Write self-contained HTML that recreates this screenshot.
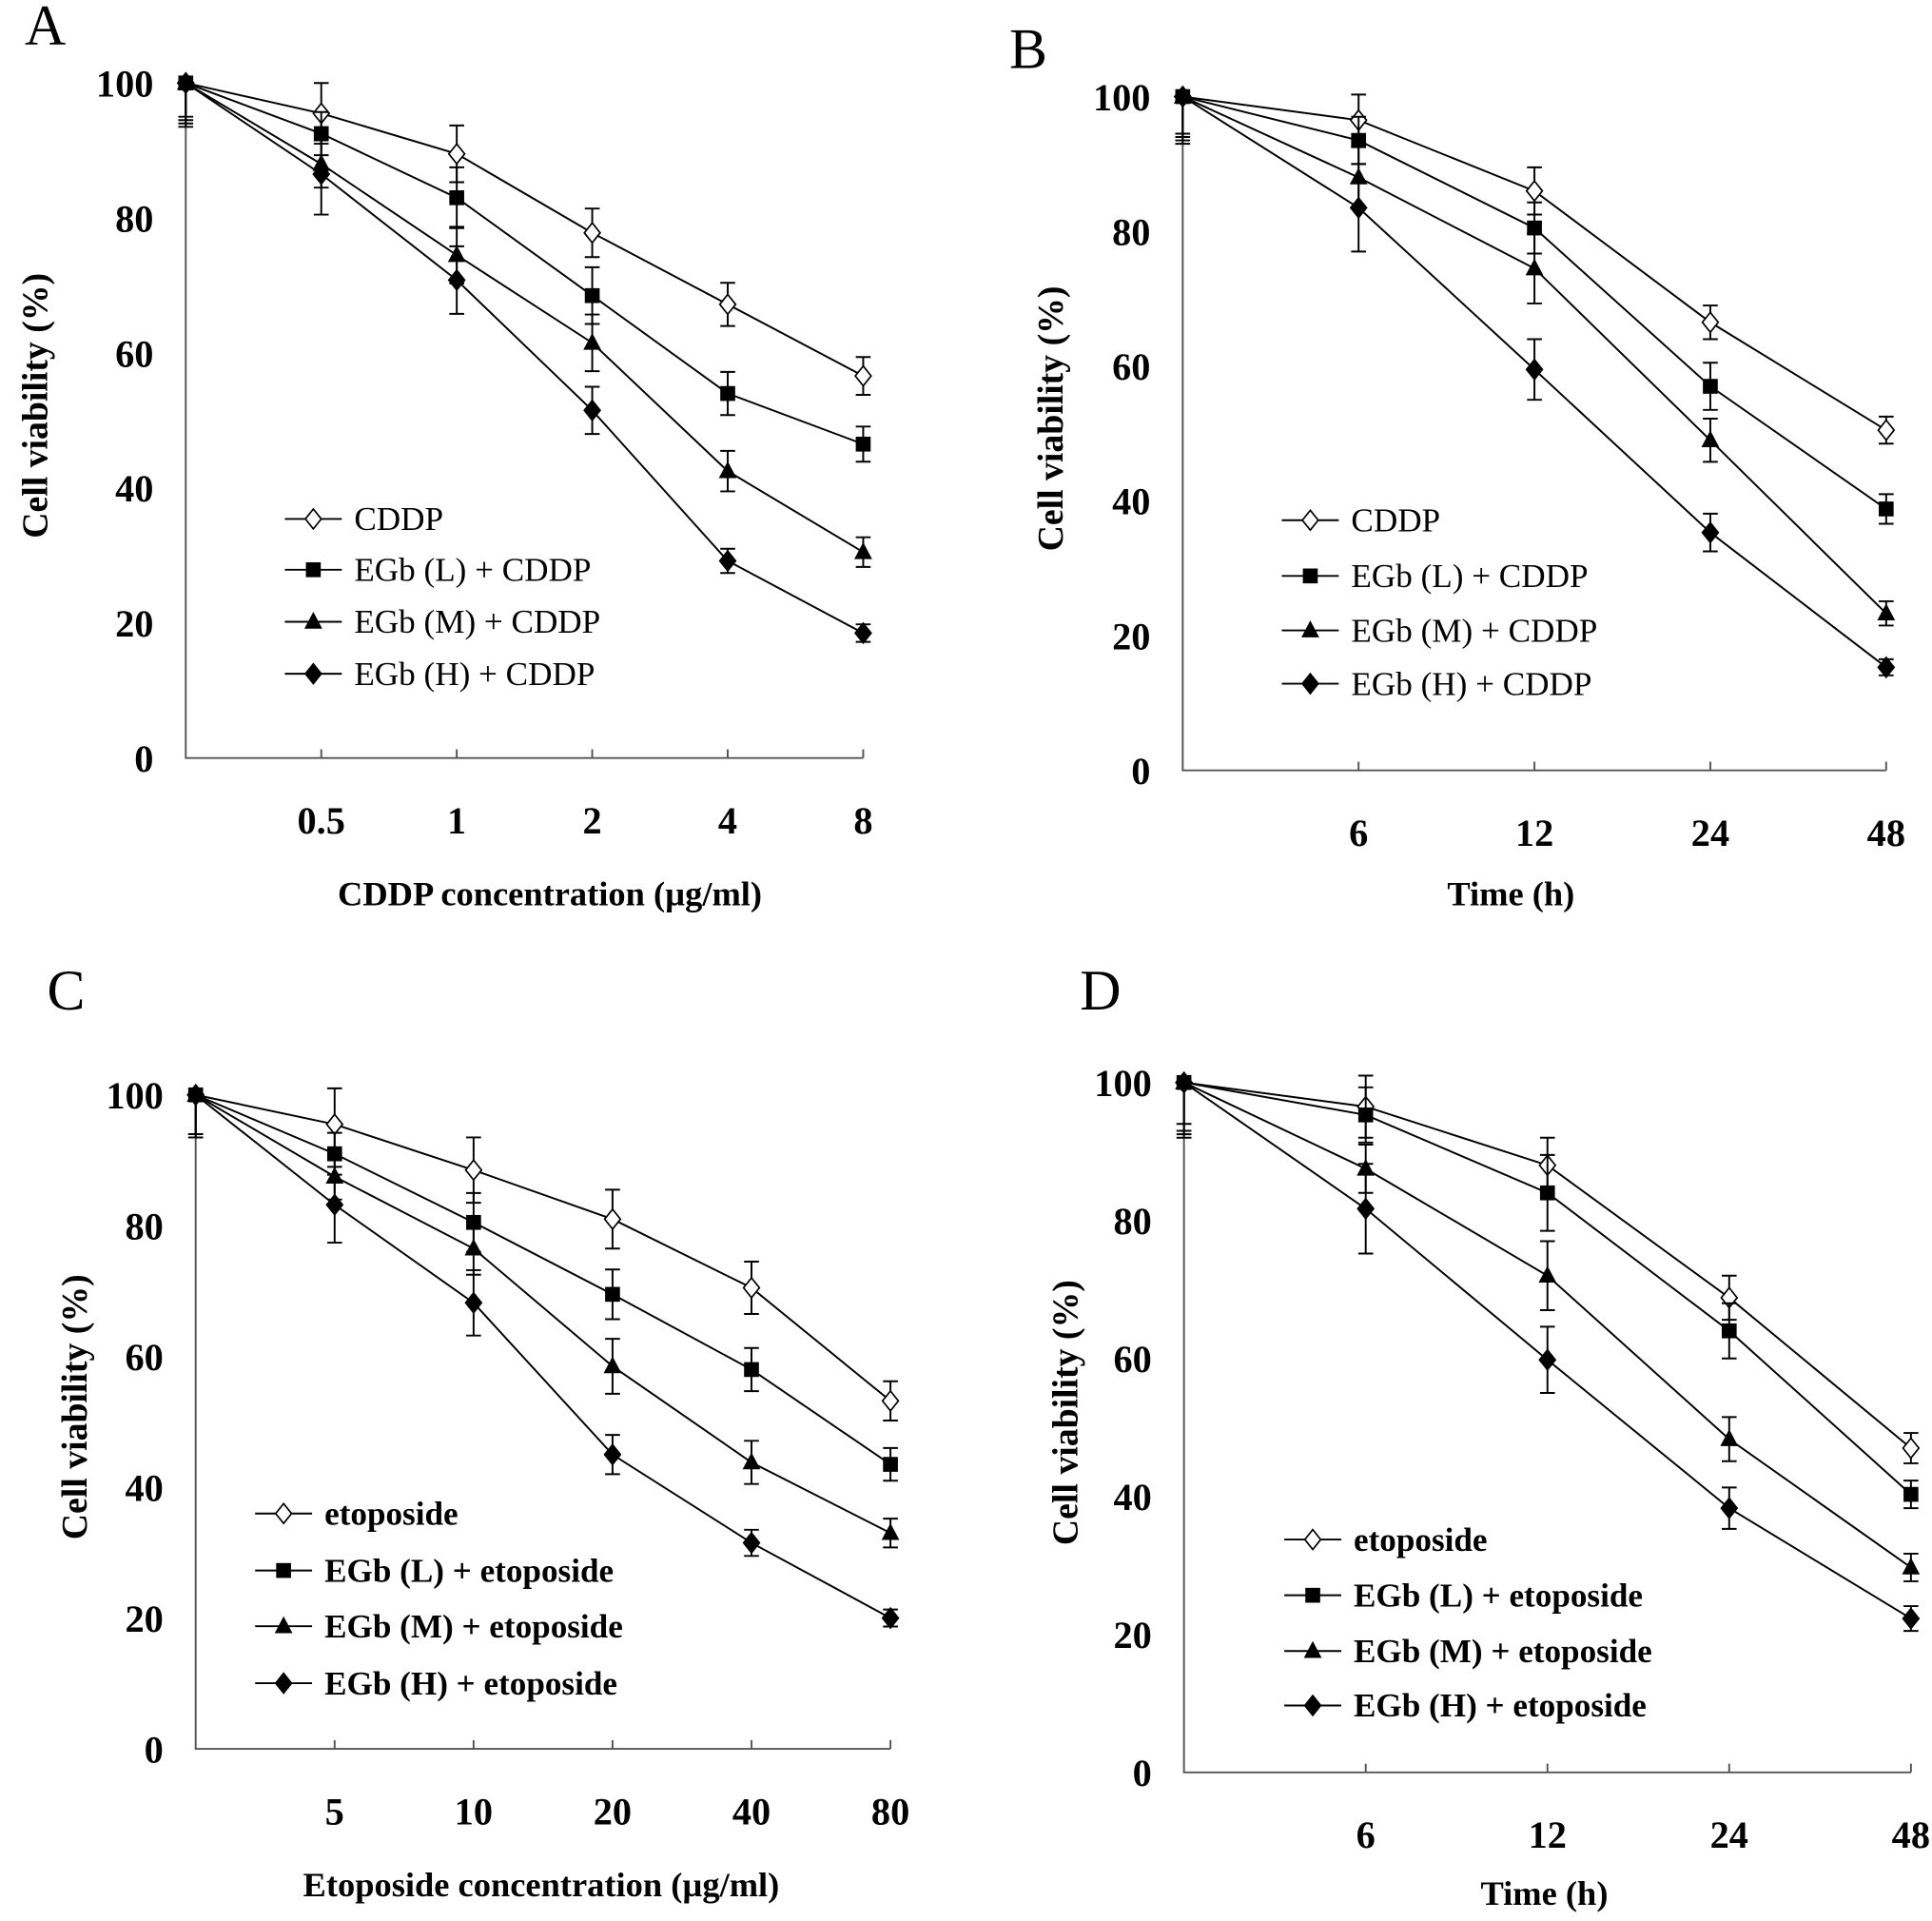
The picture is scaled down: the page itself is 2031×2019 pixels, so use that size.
<!DOCTYPE html>
<html><head><meta charset="utf-8"><style>
html,body{margin:0;padding:0;background:#fff;}
svg{display:block;font-family:"Liberation Serif","Times New Roman",serif;}
</style></head><body>
<svg id="fig" width="2031" height="2019" viewBox="0 0 1560 1551" preserveAspectRatio="none" xmlns="http://www.w3.org/2000/svg"></svg>
<script>
// Panel A data
const catsA = ["", "0.5", "1", "2", "4", "8"];
const aCDDP = [100, 95.5, 89.5, 77.8, 67.2, 56.6];
const aL = [100, 92.5, 83, 68.5, 54, 46.5];
const aM = [100, 88, 74.5, 61.5, 42.5, 30.5];
const aH = [100, 86.5, 70.8, 51.5, 29.2, 18.5];
const aErrC = [5.5, 4.5, 4.2, 3.6, 3.2, 2.8];
const aErrL = [6, 3.2, 4.5, 4.2, 3.2, 2.6];
const aErrM = [5, 3.5, 4.2, 4.2, 3, 2.2];
const aErrH = [6.5, 6, 5, 3.5, 1.8, 1.3];
// Panel B data
const catsB = ["", "6", "12", "24", "48"];
const bCDDP = [100, 96.5, 86, 66.5, 50.5];
const bL = [100, 93.5, 80.5, 57, 38.8];
const bM = [100, 88, 74.5, 49, 23.3];
const bH = [100, 83.5, 59.5, 35.3, 15.3];
const bErrC = [5.5, 3.8, 3.5, 2.5, 2];
const bErrL = [6, 3.5, 3.8, 3.5, 2.2];
const bErrM = [6.5, 4.5, 5.2, 3.2, 1.8];
const bErrH = [7, 6.5, 4.5, 2.8, 1.2];
// Panel C data
const catsC = ["", "5", "10", "20", "40", "80"];
const cEto = [100, 95.5, 88.5, 81, 70.5, 53.2];
const cL = [100, 91, 80.5, 69.5, 58, 43.5];
const cM = [100, 87.5, 76.5, 58.5, 43.8, 33];
const cH = [100, 83.2, 68.2, 45, 31.5, 20];
const cErrE = [6, 5.5, 5, 4.5, 4, 3];
const cErrL = [6.5, 3.2, 4.5, 3.8, 3.3, 2.5];
const cErrM = [6, 3.5, 4, 4.2, 3.3, 2.2];
const cErrH = [6.5, 5.8, 5, 3, 2, 1.3];
// Panel D data
const catsD = ["", "6", "12", "24", "48"];
const dEto = [100, 96.5, 88, 68.8, 47];
const dL = [100, 95.3, 84, 64, 40.3];
const dM = [100, 87.5, 72, 48.3, 29.7];
const dH = [100, 81.7, 59.8, 38.3, 22.3];
const dErrE = [6, 4.5, 4, 3.2, 2.2];
const dErrL = [7, 4, 5.5, 4, 2];
const dErrM = [7.5, 3.5, 5, 3.2, 2];
const dErrH = [8, 6.5, 4.8, 3, 1.8];
const yTicks = [0, 20, 40, 60, 80, 100];

const NS = "http://www.w3.org/2000/svg";
const svg = document.getElementById("fig");
function mk(tag, attrs, parent) {
  const e = document.createElementNS(NS, tag);
  for (const k in attrs) e.setAttribute(k, attrs[k]);
  (parent || svg).appendChild(e);
  return e;
}
function marker(g, type, x, y, s) {
  let e;
  if (type === "od" || type === "fd") {
    e = mk("polygon", {points: `${x},${y - s} ${x + s * 0.8},${y} ${x},${y + s} ${x - s * 0.8},${y}`, fill: type === "od" ? "#fff" : "#000", stroke: "#000", "stroke-width": 1.3}, g);
  } else if (type === "sq") {
    e = mk("rect", {x: x - s * 0.75, y: y - s * 0.75, width: s * 1.5, height: s * 1.5, fill: "#000"}, g);
  } else {
    e = mk("polygon", {points: `${x},${y - s} ${x + s * 0.9},${y + s * 0.7} ${x - s * 0.9},${y + s * 0.7}`, fill: "#000"}, g);
  }
  return e;
}
function panel(p) {
  const g = mk("g", {});
  
  
  const n = p.cats.length;
  const xs = i => p.x0 + (p.x1 - p.x0) * i / (n - 1);
  const ys = v => p.y0 - (p.y0 - p.y100) * v / 100;
  const lt = mk("text", {x: p.lx, y: p.ly, "font-size": 46}, g);
  lt.textContent = p.letter;
  
  
  const ax = mk("path", {d: `M${p.x0},${ys(100) - 2} V${p.y0} H${p.x1}`, fill: "none", stroke: "#555", "stroke-width": 1.5}, g);
  
  
  for (let i = 1; i < n; i++) {
    mk("line", {x1: xs(i), x2: xs(i), y1: p.y0, y2: p.y0 - 7, stroke: "#555", "stroke-width": 1.5}, g);
    const t = mk("text", {x: xs(i), y: p.y0 + 61, "font-size": 31, "font-weight": "bold", "text-anchor": "middle"}, g);
    t.textContent = p.cats[i];
    
    
  }
  yTicks.forEach(v => {
    const t = mk("text", {x: p.x0 - 26, y: ys(v) + 11, "font-size": 31, "font-weight": "bold", "text-anchor": "end"}, g);
    t.textContent = v;
    
    
  });
  const xt = mk("text", {x: p.xtx, y: p.xty, "font-size": 28, "font-weight": "bold", "text-anchor": "middle"}, g);
  xt.textContent = p.xtitle;
  
  
  const yc = (p.y0 + p.y100) / 2 - 12;
  const yt = mk("text", {x: 0, y: 0, "font-size": 29, "font-weight": "bold", "text-anchor": "middle", transform: `translate(${p.ytx},${yc}) rotate(-90)`}, g);
  yt.textContent = "Cell viability (%)";
  
  
  const types = ["od", "sq", "tr", "fd"];
  p.series.forEach((s, si) => {
    const sg = mk("g", {}, g);
    
    
    mk("polyline", {points: s.map((v, i) => `${xs(i)},${ys(v)}`).join(" "), fill: "none", stroke: "#000", "stroke-width": 1.5}, sg);
    s.forEach((v, i) => {
      const e = p.errs[si][i];
      const x = xs(i);
      let d;
      if (i === 0) d = `M${x},${ys(v)} V${ys(v - e)} M${x - 6},${ys(v - e)} h12`;
      else d = `M${x},${ys(v + e)} V${ys(v - e)} M${x - 6},${ys(v + e)} h12 M${x - 6},${ys(v - e)} h12`;
      mk("path", {d: d, stroke: "#000", "stroke-width": 1.5, fill: "none"}, sg);
    });
    s.forEach((v, i) => {
      const m = marker(sg, types[si], xs(i), ys(v), 8);
      
      
    });
  });
  p.legend.forEach((lab, i) => {
    const y = p.legY[i];
    const lg = mk("g", {}, g);
    
    
    mk("line", {x1: p.legX, x2: p.legX + 46, y1: y, y2: y, stroke: "#000", "stroke-width": 1.5}, lg);
    marker(lg, types[i], p.legX + 23, y, 8);
    const t = mk("text", {x: p.legX + 56, y: y + 9, "font-size": 27, "font-weight": p.legBold ? "bold" : "normal"}, lg);
    t.textContent = lab;
  });
}
panel({letter: "A", lx: 20, ly: 36, x0: 150, x1: 697, y0: 612, y100: 67, cats: catsA,
  series: [aCDDP, aL, aM, aH], errs: [aErrC, aErrL, aErrM, aErrH],
  xtitle: "CDDP concentration (\u00b5g/ml)", xtx: 444, xty: 731, ytx: 38,
  legend: ["CDDP", "EGb (L) + CDDP", "EGb (M) + CDDP", "EGb (H) + CDDP"], legX: 230, legY: [419, 460, 502, 544], legBold: false});
panel({letter: "B", lx: 815, ly: 55, x0: 955, x1: 1523, y0: 622, y100: 78, cats: catsB,
  series: [bCDDP, bL, bM, bH], errs: [bErrC, bErrL, bErrM, bErrH],
  xtitle: "Time (h)", xtx: 1220, xty: 731, ytx: 858,
  legend: ["CDDP", "EGb (L) + CDDP", "EGb (M) + CDDP", "EGb (H) + CDDP"], legX: 1035, legY: [420, 465, 509, 552], legBold: false});
panel({letter: "C", lx: 38, ly: 815, x0: 158, x1: 719, y0: 1412, y100: 884, cats: catsC,
  series: [cEto, cL, cM, cH], errs: [cErrE, cErrL, cErrM, cErrH],
  xtitle: "Etoposide concentration (\u00b5g/ml)", xtx: 437, xty: 1531, ytx: 70,
  legend: ["etoposide", "EGb (L) + etoposide", "EGb (M) + etoposide", "EGb (H) + etoposide"], legX: 206, legY: [1222, 1268, 1313, 1359], legBold: true});
panel({letter: "D", lx: 872, ly: 815, x0: 956, x1: 1543, y0: 1431, y100: 874, cats: catsD,
  series: [dEto, dL, dM, dH], errs: [dErrE, dErrL, dErrM, dErrH],
  xtitle: "Time (h)", xtx: 1247, xty: 1538, ytx: 870,
  legend: ["etoposide", "EGb (L) + etoposide", "EGb (M) + etoposide", "EGb (H) + etoposide"], legX: 1037, legY: [1243, 1288, 1333, 1377], legBold: true});
</script>
</body></html>
